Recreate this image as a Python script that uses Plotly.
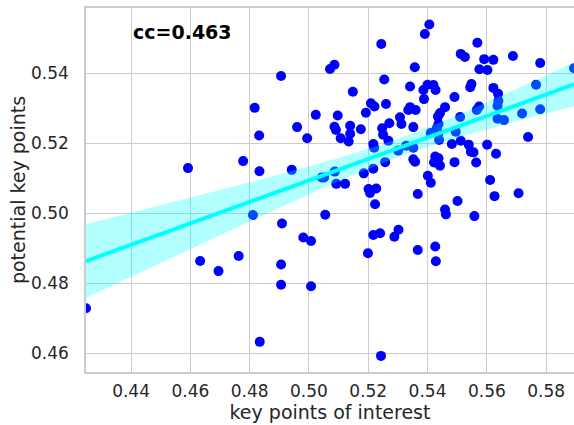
import numpy as np
import plotly.graph_objects as go

x_vals = [
    0.4248, 0.4592, 0.4633, 0.4695, 0.4763, 0.4778, 0.4817, 0.4832, 0.4833, 0.4811,
    0.4834, 0.4909, 0.4906, 0.4906, 0.5055, 0.4981, 0.5007, 0.5007, 0.5243, 0.5199,
    0.5217, 0.5240, 0.5302, 0.5288, 0.5367, 0.5367, 0.5201, 0.5227, 0.5206, 0.5223,
    0.5092, 0.5122, 0.5043, 0.5051, 0.5411, 0.5459, 0.5462, 0.5501, 0.5558, 0.5611,
    0.5626, 0.5707, 0.5426, 0.5428,
    0.5244, 0.5071, 0.5086, 0.4906, 0.5357, 0.5254, 0.5148, 0.5341, 0.5209, 0.5221,
    0.5260, 0.5192, 0.5335, 0.5341, 0.5360, 0.5023, 0.5097, 0.5307, 0.4960, 0.5086,
    0.5091, 0.5139, 0.5175, 0.5271, 0.5247, 0.5312, 0.5352, 0.4994, 0.5107, 0.5139,
    0.5134, 0.5250, 0.5268, 0.5217, 0.5220, 0.5301, 0.5328, 0.5352, 0.5352, 0.5358,
    0.5257, 0.5217, 0.5185, 0.4942, 0.5087,
    0.5406, 0.5391, 0.5568, 0.5512, 0.5526, 0.5591, 0.5622, 0.5688, 0.5780, 0.5575,
    0.5602, 0.5894, 0.5386, 0.5400, 0.5420, 0.5427, 0.5548, 0.5544, 0.5622, 0.5638,
    0.5766, 0.5388, 0.5491, 0.5639, 0.5636, 0.5459, 0.5442, 0.5435, 0.5574, 0.5566,
    0.5510, 0.5719, 0.5780, 0.5636, 0.5658, 0.5437, 0.5431, 0.5411, 0.5437, 0.5439,
    0.5495, 0.5739, 0.5482, 0.5512, 0.5539, 0.5546, 0.5555, 0.5601, 0.5631, 0.5426,
    0.5437, 0.5422, 0.5442, 0.5491, 0.5564, 0.5401,
]
y_vals = [
    0.4729, 0.5129, 0.4864, 0.4835, 0.4878, 0.5149, 0.5301, 0.5222, 0.5120, 0.4995,
    0.4633, 0.4971, 0.4854, 0.4796, 0.4996, 0.4931, 0.4921, 0.4792, 0.4593, 0.4886,
    0.4938, 0.4943, 0.4953, 0.4933, 0.4895, 0.5055, 0.5069, 0.5071, 0.5058, 0.5026,
    0.5084, 0.5084, 0.5102, 0.5102, 0.5087, 0.5011, 0.4997, 0.5035, 0.4992, 0.5095,
    0.5049, 0.5057, 0.4905, 0.4863,
    0.5483, 0.5412, 0.5424, 0.5392, 0.5417, 0.5382, 0.5347, 0.5362, 0.5314, 0.5305,
    0.5312, 0.5287, 0.5295, 0.5303, 0.5295, 0.5281, 0.5279, 0.5274, 0.5246, 0.5247,
    0.5238, 0.5250, 0.5240, 0.5257, 0.5243, 0.5255, 0.5246, 0.5214, 0.5214, 0.5227,
    0.5205, 0.5224, 0.5207, 0.5198, 0.5187, 0.5179, 0.5193, 0.5187, 0.5154, 0.5147,
    0.5146, 0.5127, 0.5114, 0.5124, 0.5119,
    0.5539, 0.5512, 0.5487, 0.5455, 0.5446, 0.5440, 0.5438, 0.5449, 0.5429, 0.5411,
    0.5409, 0.5414, 0.5352, 0.5367, 0.5366, 0.5352, 0.5369, 0.5360, 0.5358, 0.5341,
    0.5367, 0.5326, 0.5332, 0.5321, 0.5307, 0.5303, 0.5286, 0.5276, 0.5305, 0.5295,
    0.5275, 0.5285, 0.5297, 0.5270, 0.5266, 0.5255, 0.5243, 0.5229, 0.5229, 0.5209,
    0.5233, 0.5218, 0.5198, 0.5207, 0.5196, 0.5176, 0.5174, 0.5196, 0.5170, 0.5162,
    0.5157, 0.5145, 0.5136, 0.5146, 0.5145, 0.5107,
]

x_ticks = [0.44, 0.46, 0.48, 0.50, 0.52, 0.54, 0.56, 0.58]
y_ticks = [0.46, 0.48, 0.50, 0.52, 0.54]
x_label = "key points of interest"
y_label = "potential key points"
cc_text = "cc=0.463"
y_range = [0.4547, 0.5586]

x = np.array(x_vals)
y = np.array(y_vals)
n = len(x)
slope, intercept = np.polyfit(x, y, 1)
grid = np.linspace(x.min(), x.max(), 100)
fit = intercept + slope * grid
resid = y - (intercept + slope * x)
s = np.sqrt(np.sum(resid ** 2) / (n - 2))
sxx = np.sum((x - x.mean()) ** 2)
se = s * np.sqrt(1.0 / n + (grid - x.mean()) ** 2 / sxx)
lo = fit - 1.977 * se
hi = fit + 1.977 * se

fig = go.Figure()
fig.add_trace(go.Scatter(x=x, y=y, mode="markers",
                         marker=dict(color="#0000ff", size=10, line=dict(width=0)),
                         showlegend=False, hoverinfo="skip"))
fig.add_trace(go.Scatter(x=grid, y=lo, mode="lines", line=dict(width=0, color="rgba(0,255,255,0)"),
                         showlegend=False, hoverinfo="skip"))
fig.add_trace(go.Scatter(x=grid, y=hi, mode="lines", line=dict(width=0, color="rgba(0,255,255,0)"),
                         fill="tonexty", fillcolor="rgba(0,255,255,0.3)",
                         showlegend=False, hoverinfo="skip"))
fig.add_trace(go.Scatter(x=grid, y=fit, mode="lines", line=dict(width=4, color="#00ffff"),
                         showlegend=False, hoverinfo="skip"))

fig.add_annotation(x=0.44, y=0.5518, xref="x", yref="y", text="<b>" + cc_text + "</b>",
                   showarrow=False, xanchor="left", yanchor="middle",
                   font=dict(family="DejaVu Sans", size=19, color="black"))

axis_common = dict(showgrid=True, gridcolor="#cccccc", gridwidth=1.25,
                   showline=True, linecolor="#cccccc", linewidth=1.5, mirror=True,
                   zeroline=False, ticks="", automargin=False,
                   tickfont=dict(family="DejaVu Sans", size=17, color="#262626"))

fig.update_xaxes(range=[x.min(), x.max()], tickvals=x_ticks,
                 ticktext=[f"{v:.2f}" for v in x_ticks],
                 title=dict(text=x_label, font=dict(family="DejaVu Sans", size=19, color="#262626"), standoff=2),
                 ticklabelstandoff=3, **axis_common)
fig.update_yaxes(range=y_range, tickvals=y_ticks,
                 ticktext=[f"{v:.2f}" for v in y_ticks],
                 title=dict(text=y_label, font=dict(family="DejaVu Sans", size=19, color="#262626"), standoff=0),
                 ticklabelstandoff=12, **axis_common)

fig.update_layout(width=574, height=425, margin=dict(l=86, r=0, t=8, b=53),
                  plot_bgcolor="white", paper_bgcolor="white")

fig.write_html("out.html", config={"displayModeBar": False},
               post_script="document.body.style.margin='0';document.body.style.overflow='hidden';")
